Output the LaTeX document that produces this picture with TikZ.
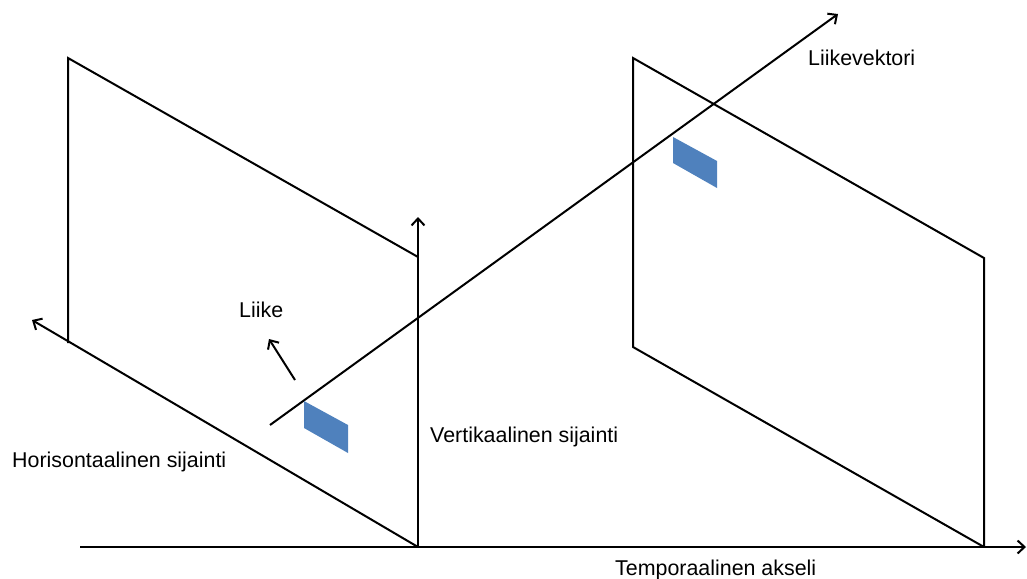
\documentclass[tikz,border=0pt]{standalone}
\usepackage{fontspec}
\setmainfont{Liberation Sans}
\usetikzlibrary{arrows.meta}
\begin{document}
\begin{tikzpicture}[x=1pt,y=-1pt,
  ln/.style={line width=2pt,black},
  arr/.style={ln,-{Straight Barb[length=7pt,width=13pt,line width=2pt]}},
  lbl/.style={inner sep=0pt,anchor=base west,font=\fontsize{21.4}{25}\selectfont}]
\useasboundingbox (0,0) rectangle (1027,578);
\definecolor{patchblue}{HTML}{4F81BD}
% coordinates
\coordinate (ltl) at (68,58);
\coordinate (ltr) at (418,257);
\coordinate (lbl0) at (68,343);
\coordinate (lbr) at (418,547);
\coordinate (vtip) at (418,217);
\coordinate (htip) at (32,320);
\coordinate (rtl) at (633,58);
\coordinate (rtr) at (984,258);
\coordinate (rbl) at (633,347);
\coordinate (rbr) at (984,547);
\coordinate (ax0) at (80,547);
\coordinate (axtip) at (1026,547);
\coordinate (mv0) at (270,425);
\coordinate (mvtip) at (838,14);
\coordinate (lk0) at (295,380);
\coordinate (lktip) at (269,339);
% left frame
\draw[ln] (lbl0) -- (ltl) -- (ltr);
\draw[arr] (lbr) -- (vtip);
\draw[arr] (lbr) -- (htip);
% right frame
\draw[ln,line join=miter] (rbr) -- (rbl) -- (rtl) -- (rtr) -- (rbr);
% temporal axis
\draw[arr] (ax0) -- (axtip);
% motion vector
\draw[arr] (mv0) -- (mvtip);
\draw[arr] (lk0) -- (lktip);
% blue patches
\fill[patchblue] (304,401) -- (348,425) -- (348,453) -- (304,428) -- cycle;
\fill[patchblue] (673,137) -- (717,161) -- (717,188) -- (673,163) -- cycle;
% labels
\node[lbl] (t1) at (808,65) {Liikevektori};
\node[lbl] (t2) at (239,317) {Liike};
\node[lbl] (t3) at (12,467) {Horisontaalinen sijainti};
\node[lbl] (t4) at (430,442) {Vertikaalinen sijainti};
\node[lbl] (t5) at (615,575) {Temporaalinen akseli};
\end{tikzpicture}
\end{document}
